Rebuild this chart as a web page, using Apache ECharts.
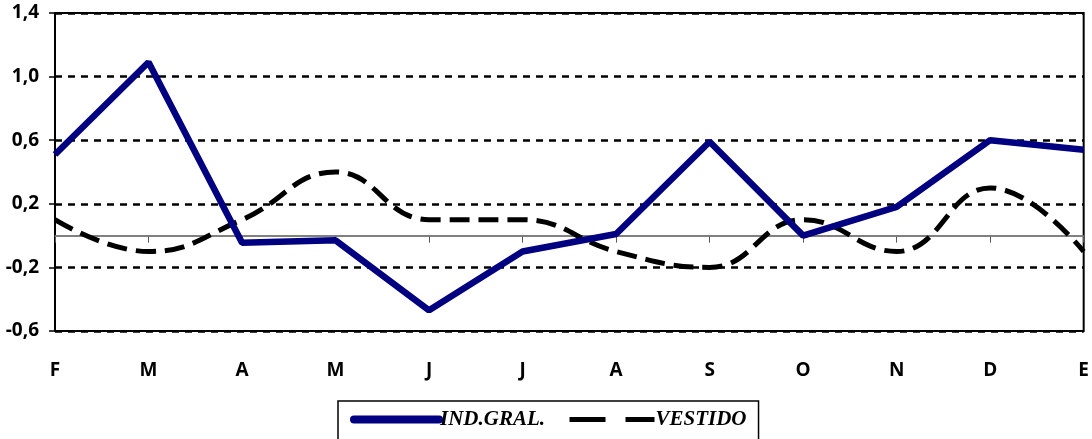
<!DOCTYPE html>
<html>
<head>
<meta charset="utf-8">
<script src="https://cdn.jsdelivr.net/npm/echarts@6/dist/echarts.min.js"></script>
<style>
html,body{margin:0;padding:0;background:#fff;}
#chart{width:1092px;height:439px;}
</style>
</head>
<body>
<div id="chart"></div>
<script>
const categories = ['F','M','A','M','J','J','A','S','O','N','D','E'];
const indGral = [0.51, 1.09, -0.045, -0.03, -0.47, -0.10, 0.01, 0.59, 0.0, 0.18, 0.60, 0.54];
const vestido = [0.1, -0.1, 0.1, 0.4, 0.1, 0.1, -0.1, -0.2, 0.1, -0.1, 0.3, -0.1];
const seriesNames = ['IND.GRAL.', 'VESTIDO'];
const yMin = -0.6, yMax = 1.4, yStep = 0.4;

const chart = echarts.init(document.getElementById('chart'));
chart.setOption({
  animation: false,
  backgroundColor: '#fff',
  grid: {left: 55, right: 5, top: 13, bottom: 108, show: true, borderColor: '#000', borderWidth: 2},
  legend: {
    left: 338, top: 401,
    padding: [8, 12, 20, 12],
    borderColor: '#000', borderWidth: 1.5,
    itemWidth: 85, itemHeight: 10, itemGap: 22,
    itemStyle: {opacity: 0},
    textStyle: {fontFamily: 'Liberation Serif', fontStyle: 'italic', fontWeight: 'bold', fontSize: 21, color: '#000', padding: [4, 0, 0, -4]},
    data: [
      {name: seriesNames[0], lineStyle: {width: 8, cap: 'round', color: '#000080'}},
      {name: seriesNames[1], lineStyle: {width: 5, type: [36, 20], color: '#000'}}
    ]
  },
  xAxis: {
    type: 'category', data: categories, boundaryGap: false,
    axisLine: {lineStyle: {color: '#555', width: 1.5}},
    axisTick: {show: true, inside: false, length: 7, lineStyle: {color: '#555'}},
    axisLabel: {margin: 30, fontFamily: 'Open Sans', fontWeight: 'bold', fontSize: 19, color: '#000'},
    splitLine: {show: false}
  },
  yAxis: {
    type: 'value', min: yMin, max: yMax, interval: yStep,
    axisLine: {show: true, lineStyle: {color: '#000', width: 2}},
    axisTick: {show: true, length: 6, lineStyle: {color: '#000', width: 1.5}},
    axisLabel: {margin: 16, fontFamily: 'Open Sans', fontWeight: 'bold', fontSize: 19, color: '#000',
      padding: [10, 0, 0, 0],
      formatter: v => v.toFixed(1).replace('.', ',')},
    splitLine: {show: true, lineStyle: {color: '#000', width: 2.5, type: [7, 6]}}
  },
  series: [
    {
      name: seriesNames[0], type: 'line', data: indGral, symbol: 'none', z: 3,
      lineStyle: {color: '#000080', width: 6.5}, itemStyle: {color: '#000080'},
      markLine: {silent: true, symbol: 'none', label: {show: false},
        lineStyle: {color: '#808080', width: 1.5, type: 'solid'}, data: [{yAxis: 0}], z: 1}
    },
    {
      name: seriesNames[1], type: 'line', data: vestido, symbol: 'none', smooth: 0.45, z: 2,
      lineStyle: {color: '#000', width: 5, type: [20, 9]}, itemStyle: {color: '#000'}
    }
  ]
});
</script>
</body>
</html>
